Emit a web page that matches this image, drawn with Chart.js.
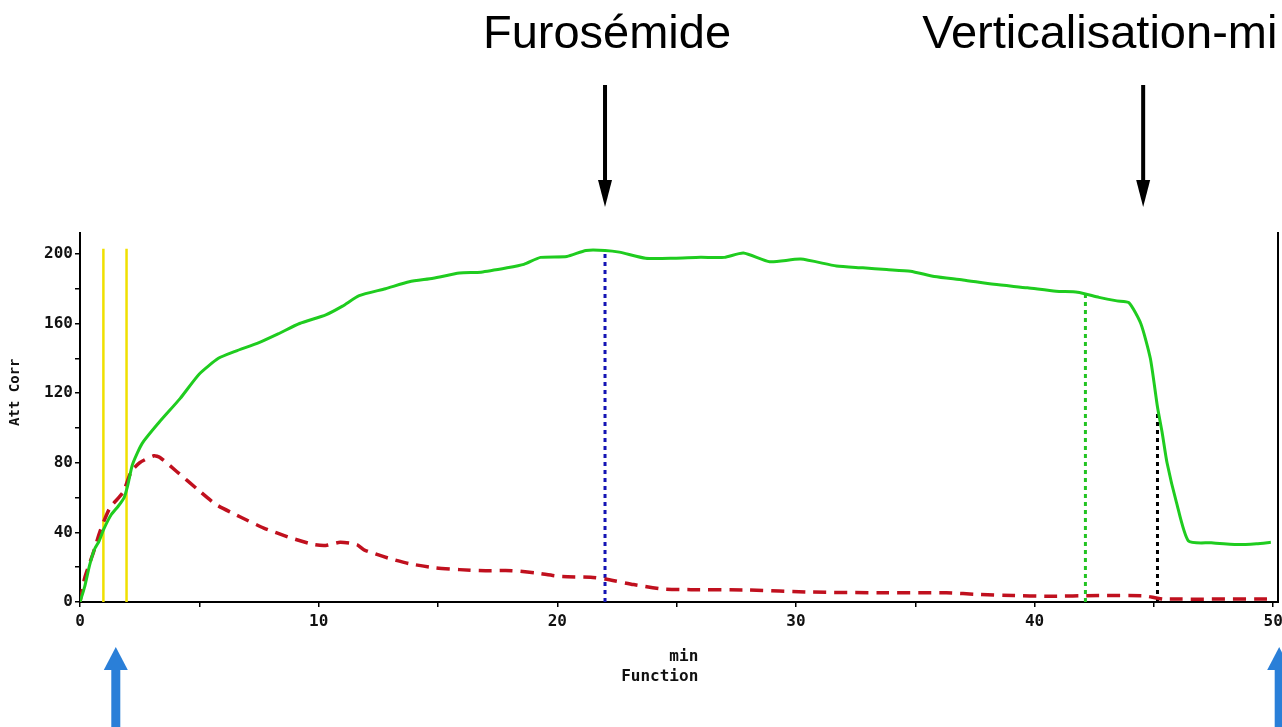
<!DOCTYPE html>
<html>
<head>
<meta charset="utf-8">
<script src="https://cdn.jsdelivr.net/npm/chart.js@4.4.1/dist/chart.umd.min.js"></script>
<style>
  html, body { margin: 0; padding: 0; background: #fff; }
  canvas { display: block; }
</style>
</head>
<body>
<canvas id="renogram" width="1282" height="727"></canvas>
<script>
// kidney curve (green) and background curve (red), min / counts
const greenTimes = [0, 0.2, 0.4, 0.6, 0.8, 1.0, 1.3, 1.6, 1.85, 2.0, 2.2, 2.6, 3.3, 4.2, 5.0, 5.8, 6.5, 7.5, 8.3, 9.2, 10.3, 11.0, 11.7, 12.8, 13.8, 14.8, 15.9, 16.8, 17.9, 18.6, 19.3, 20.4, 21.2, 22.0, 22.6, 23.7, 24.9, 26.0, 27.0, 27.8, 28.9, 30.2, 31.7, 32.8, 33.8, 34.8, 35.8, 37.0, 38.3, 39.7, 40.9, 41.8, 42.7, 43.45, 43.95, 44.45, 44.85, 45.15, 45.35, 45.55, 45.95, 46.45, 47.4, 48.5, 49.3, 49.9];
const greenCounts = [0, 9, 21, 30, 35, 42, 50, 55, 60, 67, 79, 91, 103, 117, 131, 140, 144, 149, 154, 160, 165, 170, 176, 180, 184, 186, 189, 189.5, 192, 194, 198, 198.5, 202, 202, 201, 197.5, 197.5, 198, 198, 200.5, 195.5, 197, 193, 192, 191, 190, 187, 185, 182.5, 180.5, 178.5, 178, 175, 173, 172, 160, 140, 112, 97, 80, 57, 35, 34, 33, 33.5, 34.3];

const redTimes = [0, 0.2, 0.55, 0.85, 1.25, 1.8, 2.15, 2.5, 3.1, 3.35, 4.05, 4.9, 5.7, 6.7, 7.7, 8.8, 9.8, 10.3, 10.9, 11.6, 11.9, 12.9, 13.8, 14.9, 15.9, 17.0, 18.1, 19.1, 20.1, 21.4, 22.0, 23.2, 24.4, 25.6, 27.9, 30.7, 33.5, 36.3, 37.7, 39.1, 40.5, 42.7, 44.55, 45.1, 45.4, 50];
const redCounts = [0, 14, 28, 41, 54, 63, 75, 80, 84, 83, 75, 65, 56, 49, 42.5, 37, 33, 32.5, 34.3, 33, 30, 25.3, 22, 19.6, 18.6, 18, 18, 16.7, 14.7, 14.2, 13.2, 10, 7.5, 7.1, 6.9, 5.7, 5.3, 5.3, 4.3, 3.7, 3.3, 3.7, 3.6, 2.3, 1.7, 1.7];

// vertical markers
const yellowTimes = [0.98, 1.95];
const yellowTop = 203;
const markerTimes = [22, 42.13, 45.15];
const markerTops = [202, 178, 110];
const markerColors = ['#1414b4', '#22c322', '#000000'];

const xTicks = [0, 5, 10, 15, 20, 25, 30, 35, 40, 45, 50];
const yTicks = [0, 20, 40, 60, 80, 100, 120, 140, 160, 180, 200];

const eventLabels = ['Furosémide', 'Verticalisation-mi'];
const eventTimes = [22, 44.55];
const blueArrowTimes = [1.5, 50.25];

const toPoints = (xs, ys) => xs.map((x, i) => ({ x: x, y: ys[i] }));

const datasets = [
  {
    data: toPoints(greenTimes, greenCounts),
    borderColor: '#1fcc1f',
    borderWidth: 3,
    tension: 0.2
  },
  {
    data: toPoints(redTimes, redCounts),
    borderColor: '#c0101e',
    borderWidth: 3.5,
    borderDash: [13, 8],
    tension: 0.2
  }
];

yellowTimes.forEach((t) => {
  datasets.push({
    data: [{ x: t, y: 0 }, { x: t, y: yellowTop }],
    borderColor: '#f0e000',
    borderWidth: 2.5
  });
});

markerTimes.forEach((t, i) => {
  datasets.push({
    data: [{ x: t, y: 0 }, { x: t, y: markerTops[i] }],
    borderColor: markerColors[i],
    borderWidth: 3,
    borderDash: [4, 4]
  });
});

const drawArrow = (ctx, x, yTail, yTip, headLen, headHalf, shaftW, color) => {
  const dir = yTip > yTail ? 1 : -1;
  const yBase = yTip - dir * headLen;
  ctx.fillStyle = color;
  ctx.fillRect(x - shaftW / 2, Math.min(yTail, yBase), shaftW, Math.abs(yBase - yTail));
  ctx.beginPath();
  ctx.moveTo(x, yTip);
  ctx.lineTo(x - headHalf, yBase);
  ctx.lineTo(x + headHalf, yBase);
  ctx.closePath();
  ctx.fill();
};

const annotations = {
  id: 'annotations',
  beforeDraw(chart) {
    const ctx = chart.ctx;
    ctx.save();
    ctx.fillStyle = '#fff';
    ctx.fillRect(0, 0, chart.width, chart.height);
    ctx.restore();
  },
  afterDraw(chart) {
    const ctx = chart.ctx;
    const xScale = chart.scales.x;
    ctx.save();
    ctx.font = '47px "Liberation Sans", Arial, sans-serif';
    ctx.fillStyle = '#000';
    ctx.textBaseline = 'alphabetic';
    eventTimes.forEach((t, i) => {
      const px = xScale.getPixelForValue(t);
      if (i === 0) {
        ctx.textAlign = 'center';
        ctx.fillText(eventLabels[i], px + 2, 48);
      } else {
        ctx.textAlign = 'left';
        ctx.fillText(eventLabels[i], px - 221, 48);
      }
      drawArrow(ctx, px, 85, 207, 27, 7, 4, '#000');
    });
    blueArrowTimes.forEach((t) => {
      drawArrow(ctx, xScale.getPixelForValue(t), 727, 647, 23, 12, 9, '#2a7fd8');
    });
    ctx.restore();
  }
};

const tickFont = { family: '"DejaVu Sans Mono", monospace', size: 16, weight: 'bold' };

new Chart(document.getElementById('renogram'), {
  type: 'scatter',
  data: { datasets: datasets },
  options: {
    responsive: false,
    animation: false,
    devicePixelRatio: 1,
    layout: { autoPadding: false, padding: { top: 233, right: 0, bottom: 0, left: 0 } },
    elements: { point: { radius: 0 }, line: { fill: false } },
    datasets: { scatter: { showLine: true } },
    plugins: { legend: { display: false }, tooltip: { enabled: false } },
    scales: {
      x: {
        type: 'linear',
        position: 'bottom',
        min: 0,
        max: 50.2,
        afterBuildTicks: (s) => { s.ticks = xTicks.map((v) => ({ value: v })); },
        afterFit: (s) => {
          s.height = 125;
          s.paddingLeft = 0;
          s.paddingRight = 0;
        },
        border: { color: '#000', width: 2 },
        grid: { drawOnChartArea: false, color: '#000', lineWidth: 1.5, tickLength: 5 },
        ticks: {
          color: '#111',
          font: tickFont,
          padding: 5,
          maxRotation: 0,
          autoSkip: false,
          callback: (v) => (v % 10 === 0 ? v : '')
        },
        title: {
          display: true,
          text: [' min', 'Function    '],
          color: '#111',
          font: { family: '"DejaVu Sans Mono", monospace', size: 16, weight: 'bold', lineHeight: 1.25 },
          padding: { top: 0, bottom: 40 }
        }
      },
      y: {
        position: 'left',
        min: 0,
        max: 212,
        afterBuildTicks: (s) => { s.ticks = yTicks.map((v) => ({ value: v })); },
        afterFit: (s) => { s.width = 80; },
        border: { color: '#000', width: 2 },
        grid: { drawOnChartArea: false, color: '#000', lineWidth: 1.5, tickLength: 5 },
        ticks: {
          color: '#111',
          font: tickFont,
          padding: 2,
          autoSkip: false,
          callback: (v) => (v % 40 === 0 ? v : '')
        },
        title: {
          display: true,
          text: '      Att Corr',
          color: '#111',
          font: { family: '"DejaVu Sans Mono", monospace', size: 14, weight: 'bold' },
          padding: { top: 7, bottom: 0 }
        }
      },
      yRight: {
        position: 'right',
        min: 0,
        max: 212,
        afterFit: (s) => { s.width = 4; },
        border: { color: '#000', width: 2 },
        grid: { drawOnChartArea: false, drawTicks: false },
        ticks: { display: false }
      }
    }
  },
  plugins: [annotations]
});
</script>
</body>
</html>
